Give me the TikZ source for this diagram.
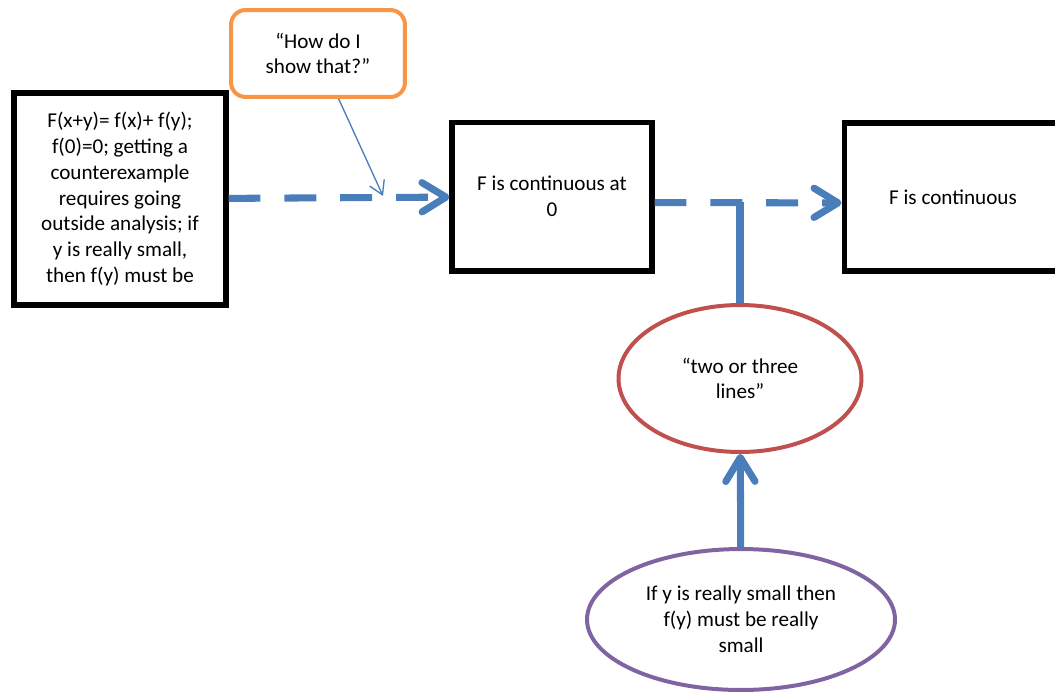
\documentclass[tikz,border=0pt]{standalone}
\usepackage{fontspec}
\setmainfont{Carlito}
\usepackage{tikz}
\usetikzlibrary{graphs}
\usetikzlibrary{arrows.meta}
\usetikzlibrary{shapes.geometric}
\usepackage{xcolor}
\definecolor{linkblue}{RGB}{74,126,187}
\definecolor{askorange}{RGB}{247,150,70}
\definecolor{ovalred}{RGB}{192,80,77}
\definecolor{ovalpurple}{RGB}{128,100,162}

\tikzset{
    stepbox/.style={draw, line width=3.8pt, align=center, inner sep=0pt},
    askbox/.style={draw=askorange, line width=3pt, rounded corners=11pt, align=center,
        minimum width=130.8pt, minimum height=65.4pt, inner sep=0pt},
    oval/.style={ellipse, line width=3pt, align=center, inner sep=0pt},
    dashlink/.style={linkblue, line width=5.3pt, dash pattern=on 24pt off 18pt,
        -{Straight Barb[round, length=18pt, width=22pt]}},
    solidlink/.style={linkblue, line width=5.3pt},
    thinlink/.style={linkblue, line width=1pt, -{Straight Barb[length=10pt, width=12pt]}}
}

\begin{document}
\begin{tikzpicture}[x=0.752pt, y=-0.752pt, font=\fontsize{15.9pt}{19.4pt}\selectfont]
        \useasboundingbox (0,0) rectangle (1055,694);

        \node[stepbox, minimum width=159.4pt, minimum height=159.4pt] (additive) at (120,199)
            {F(x+y)= f(x)+ f(y);\\ f(0)=0; getting a\\ counterexample\\ requires going\\
             outside analysis; if\\ y is really small,\\ then f(y) must be};
        \node[askbox] (howshow) at (318,53.5) {“How do I\\ show that?”};
        \node[stepbox, minimum width=150.4pt, minimum height=112pt] (atzero) at (552,196.5)
            {F is continuous at\\ 0};
        \node[stepbox, minimum width=163.9pt, minimum height=111.3pt] (cont) at (953,197)
            {F is continuous};
        \node[oval, draw=ovalred, minimum width=182.7pt, minimum height=110.5pt] (fewlines)
            at (740,378.5) {“two or three\\ lines”};
        \node[oval, draw=ovalpurple, minimum width=231.6pt, minimum height=106pt] (small)
            at (741,619.5) {If y is really small then\\ f(y) must be really\\ small};
        \coordinate (hit) at (383,196);
        \coordinate (tee) at (740,202);

        \graph {(additive) --[dashlink]  (atzero)};
        \graph {(atzero)   --[dashlink, transform canvas={yshift=-4.5pt}] (cont)};
        \graph {(howshow)  --[thinlink]  (hit)};
        \graph {(fewlines) --[solidlink] (tee)};
        \graph {(small)    --[solidlink, -{Straight Barb[round, length=18pt, width=22pt]}] (fewlines)};
    \end{tikzpicture}
\end{document}
